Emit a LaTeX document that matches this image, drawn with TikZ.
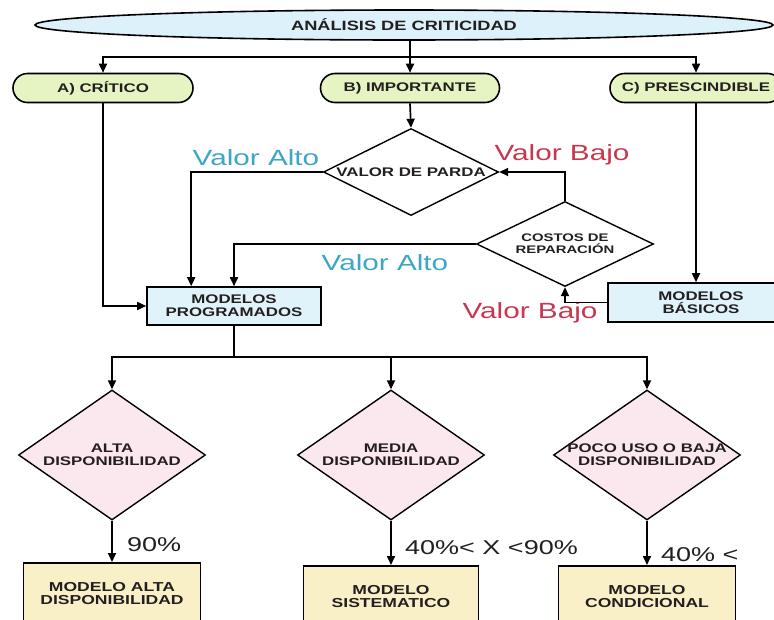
\documentclass[tikz,border=0pt]{standalone}
\usepackage{fontspec}
\setmainfont{Liberation Sans}[FakeStretch=1.35]
\usetikzlibrary{arrows.meta,positioning,shapes.geometric,shapes.misc}

\definecolor{critfill}{HTML}{DDF1FB}
\definecolor{pillfill}{HTML}{E6F4C4}
\definecolor{modfill}{HTML}{E0F3FB}
\definecolor{dispfill}{HTML}{FBE8EE}
\definecolor{resfill}{HTML}{FAF0C8}
\definecolor{altocol}{HTML}{3BA7C5}
\definecolor{bajocol}{HTML}{C9374E}
\definecolor{inkcol}{HTML}{231F20}

\begin{document}
\begin{tikzpicture}[
    x=1pt, y=-1pt,
    font=\bfseries\fontsize{12.5}{13}\selectfont,
    text=inkcol,
    head/.style={ellipse, draw, line width=1.6pt, fill=critfill, minimum width=738pt, minimum height=30pt, inner sep=0pt, font=\bfseries\fontsize{13.5}{14}\selectfont},
    pill/.style={rounded rectangle, draw, line width=1.6pt, fill=pillfill, minimum height=29pt, inner sep=0pt, font=\bfseries\fontsize{12.5}{13}\selectfont},
    box/.style={rectangle, draw, line width=1.6pt, fill=modfill, align=center, inner sep=0pt},
    result/.style={box, fill=resfill, minimum height=62pt, anchor=north, font=\bfseries\fontsize{13}{13}\selectfont},
    dec/.style={diamond, draw, line width=1.4pt, fill=white, inner sep=0pt},
    disp/.style={dec, fill=dispfill, minimum width=187pt, minimum height=130pt},
    inside/.style={align=center, inner sep=0pt},
    valor/.style={inner sep=0pt, font=\mdseries\fontsize{22}{22}\selectfont},
    pct/.style={anchor=west, inner sep=0pt, font=\mdseries\fontsize{20}{20}\selectfont},
    arrow/.style={-{Triangle[length=9pt,width=8pt]}, line width=1.7pt},
    line/.style={line width=1.7pt}
]
\clip (0,0) rectangle (774,619);

% Nodes
\node[head] (crit) at (404,25) {AN\'ALISIS DE CRITICIDAD};

\node[pill, minimum width=180pt] (cri) at (103,88) {A) CR\'ITICO};
\node[pill, minimum width=179pt] (imp) at (410,88) {B) IMPORTANTE};
\node[pill, minimum width=172pt] (pre) at (696,88) {C) PRESCINDIBLE};

\node[dec, minimum width=175pt, minimum height=87pt] (parda) at (411,172) {};
\node[inside] (pardatxt) at (parda) {VALOR DE PARDA};

\node[dec, minimum width=177pt, minimum height=85pt] (costos) at (565,244) {};
\node[inside, font=\bfseries\fontsize{11}{12}\selectfont] (costostxt) at (costos) {COSTOS DE\\REPARACI\'ON};

\node[box, minimum width=174pt, minimum height=38pt] (prog) at (234,306) {MODELOS\\PROGRAMADOS};
\node[box, minimum width=186pt, minimum height=39pt] (bas) at (701,302.5) {MODELOS\\B\'ASICOS};

\node[valor, text=altocol] (alto1) at (256,158) {Valor Alto};
\node[valor, text=altocol] (alto2) at (385,263) {Valor Alto};
\node[valor, text=bajocol] (bajo1) at (562,155) {Valor Bajo};
\node[valor, text=bajocol] (bajo2) at (530,313) {Valor Bajo};

% Disponibilidad
\node[disp] (alta) at (112,455) {};
\node[inside] (altatxt) at (alta) {ALTA\\DISPONIBILIDAD};
\node[disp] (media) at (391,455) {};
\node[inside] (mediatxt) at (media) {MEDIA\\DISPONIBILIDAD};
\node[disp] (poco) at (647,455) {};
\node[inside] (pocotxt) at (poco) {POCO USO O BAJA\\DISPONIBILIDAD};

\node[result, minimum width=177pt] (altbox) at (112,562) {MODELO ALTA\\DISPONIBILIDAD};
\node[result, minimum width=175pt] (sisbox) at (391,565) {MODELO\\SISTEMATICO};
\node[result, minimum width=177pt] (conbox) at (647,565) {MODELO\\CONDICIONAL};

\node[pct] (p90) at (127,545) {90\%};
\node[pct] (p4090) at (405,548) {40\%< X <90\%};
\node[pct] (p40) at (661,555) {40\% <};

% Arrows
\coordinate (bus) at (0,57);
\coordinate (bus2) at (0,357);
\draw[arrow] (crit.south -| imp.north) -- (imp.north);
\draw[arrow] (bus -| imp) -| (cri.north);
\draw[arrow] (bus -| imp) -| (pre.north);

\draw[arrow] (cri.south) |- (prog.west);
\draw[arrow] (imp.south) -- (parda.north);
\draw[arrow] (parda.west) -| ([xshift=45pt]prog.north west);
\draw[arrow] (costos.north) |- (parda.east);
\draw[arrow] (costos.west) -| (prog.north);
\draw[arrow] (pre.south) -- (pre.south |- bas.north);
\draw[arrow] (bas.west) -| (costos.south);

\draw[line] (prog.south) -- (prog.south |- bus2);
\draw[arrow] (prog.south |- bus2) -| (alta.north);
\draw[arrow] (prog.south |- bus2) -| (media.north);
\draw[arrow] (prog.south |- bus2) -| (poco.north);

\draw[arrow] (alta.south) -- (altbox.north);
\draw[arrow] (media.south) -- (sisbox.north);
\draw[arrow] (poco.south) -- (conbox.north);

\end{tikzpicture}
\end{document}
